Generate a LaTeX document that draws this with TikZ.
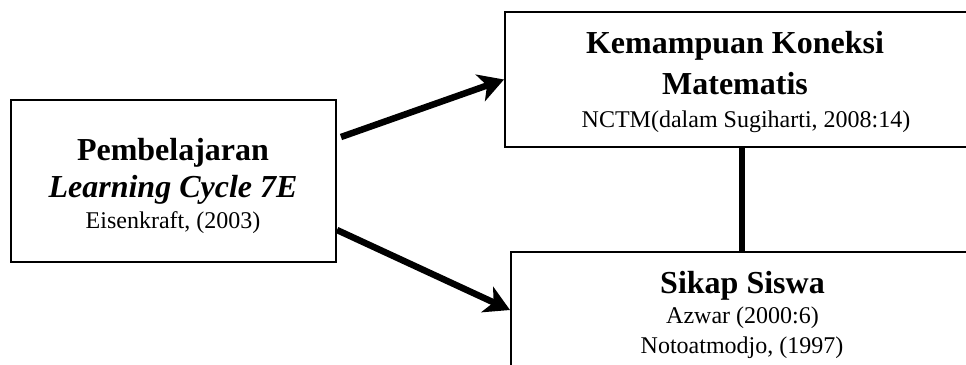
\documentclass[tikz,border=0pt]{standalone}
\usepackage{fontspec}
\setmainfont{Liberation Serif}
\usetikzlibrary{arrows.meta,calc}
\tikzset{
  boxnode/.style={draw, line width=2pt, inner sep=0pt},
  bigtext/.style={anchor=base, inner sep=0pt, font=\fontsize{32}{37}\selectfont\bfseries},
  bigitext/.style={anchor=base, inner sep=0pt, font=\fontsize{32}{37}\selectfont\bfseries\itshape},
  smalltext/.style={anchor=base, inner sep=0pt, font=\fontsize{24}{29}\selectfont},
  thickarrow/.style={line width=6.5pt, -{Stealth[length=25pt,width=28pt,inset=7pt]}},
  thickline/.style={line width=6pt}
}
\begin{document}
\begin{tikzpicture}[x=1pt,y=-1pt]
  \useasboundingbox (0,0) rectangle (966,364);
  \clip (0,0) rectangle (966,364);
  % frames
  \node[boxnode, minimum width=325pt, minimum height=162pt] (left) at (173.5,181) {};
  \node[boxnode, minimum width=470pt, minimum height=135pt] (top) at (740,79.5) {};
  \node[boxnode, minimum width=462pt, minimum height=128pt] (bot) at (742,316) {};
  % left box text
  \node[bigtext]   (l1) at (173,160) {Pembelajaran};
  \node[bigitext]  (l2) at (173,197) {Learning Cycle 7E};
  \node[smalltext] (l3) at (173,228) {Eisenkraft, (2003)};
  % upper right box text
  \node[bigtext]   (t1) at (735,53)  {Kemampuan Koneksi};
  \node[bigtext]   (t2) at (735,94)  {Matematis};
  \node[smalltext] (t3) at (746,127) {NCTM(dalam Sugiharti, 2008:14)};
  % lower right box text
  \node[bigtext]   (b1) at (742.5,293) {Sikap Siswa};
  \node[smalltext] (b2) at (742.5,323) {Azwar (2000:6)};
  \node[smalltext] (b3) at (742,353)   {Notoatmodjo, (1997)};
  % connectors
  \coordinate (s1) at ($(left.east)+(4,-44)$);
  \coordinate (s2) at ($(left.east)+(0,49)$);
  \draw[thickarrow] (s1) -- (top.west);
  \draw[thickarrow] (s2) -- ($(bot.west)+(0,-6)$);
  \draw[thickline] (top.south -| bot.north) -- (bot.north);
\end{tikzpicture}
\end{document}
